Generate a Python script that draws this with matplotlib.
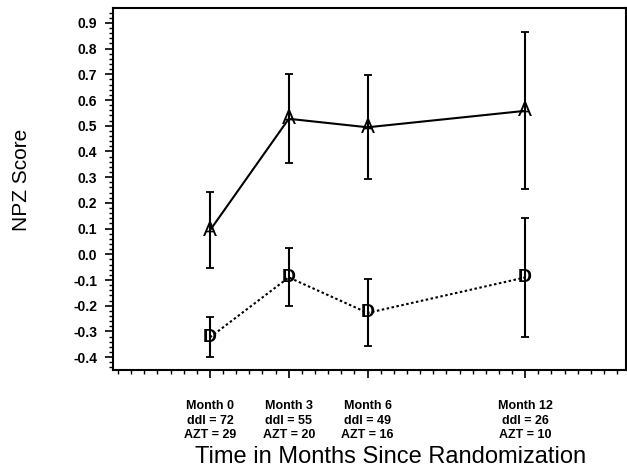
import matplotlib
matplotlib.use("Agg")
import matplotlib.pyplot as plt
from matplotlib.ticker import MultipleLocator, FixedLocator

plt.rcParams['font.family'] = ['Liberation Sans', 'DejaVu Sans']

months = [0, 3, 6, 12]
tick_labels = ["Month 0\nddl = 72\nAZT = 29",
               "Month 3\nddl = 55\nAZT = 20",
               "Month 6\nddl = 49\nAZT = 16",
               "Month 12\nddl = 26\nAZT = 10"]
a_mean = [0.093, 0.527, 0.494, 0.558]
a_err = [0.148, 0.173, 0.202, 0.305]
d_mean = [-0.323, -0.090, -0.228, -0.090]
d_err = [0.078, 0.113, 0.130, 0.233]

fig = plt.figure(figsize=(6.27, 4.68), dpi=100)
ax = fig.add_axes([113/627, 1 - 370/468, 1 - 113/627 - 0.001, (370 - 8.5)/468])

ax.plot(months, a_mean, color='black', lw=1.5, zorder=2)
ax.errorbar(months, a_mean, yerr=a_err, fmt='none', ecolor='black',
            elinewidth=1.5, capsize=3, capthick=1.3, zorder=3)
ax.plot(months, d_mean, color='black', lw=1.5, ls=(0, (1.2, 1.2)), zorder=2)
ax.errorbar(months, d_mean, yerr=d_err, fmt='none', ecolor='black',
            elinewidth=1.5, capsize=3, capthick=1.3, zorder=3)

for x, y in zip(months, a_mean):
    ax.text(x, y, "A", ha='center', va='center', fontsize=15, zorder=4)
for x, y in zip(months, d_mean):
    ax.text(x, y, "D", ha='center', va='center', fontsize=14, fontweight='bold', zorder=4)

ax.set_xlim(-3.69, 15.85)
ax.set_ylim(-0.45, 0.956)

ax.yaxis.set_major_locator(MultipleLocator(0.1))
ax.yaxis.set_minor_locator(MultipleLocator(0.02))
ax.yaxis.set_major_formatter(matplotlib.ticker.FormatStrFormatter('%.1f'))
ax.xaxis.set_major_locator(FixedLocator(months))
ax.xaxis.set_minor_locator(MultipleLocator(0.5))
ax.set_xticklabels(tick_labels, fontsize=9, fontweight='bold', linespacing=1.3)
for lbl in ax.get_yticklabels():
    lbl.set_fontweight('bold')
    lbl.set_fontsize(10)

ax.tick_params(axis='y', which='major', direction='out', length=6, width=1.2, pad=5.5)
ax.tick_params(axis='y', which='minor', direction='out', length=3, width=1)
ax.tick_params(axis='x', which='major', direction='out', length=6, width=1.2, pad=15.5)
ax.tick_params(axis='x', which='minor', direction='out', length=3, width=1)

for s in ax.spines.values():
    s.set_linewidth(1.5)

ax.set_ylabel("NPZ Score", fontsize=15)
ax.yaxis.label.set_va('center')
ax.yaxis.set_label_coords((21 - 113) / 514, (370 - 180) / 361.5)
ax.set_xlabel("Time in Months Since Randomization", fontsize=17)
ax.xaxis.label.set_va('center')
ax.xaxis.set_label_coords((391 - 113) / 514, (370 - 457) / 361.5)

fig.savefig("out.png", dpi=100)
